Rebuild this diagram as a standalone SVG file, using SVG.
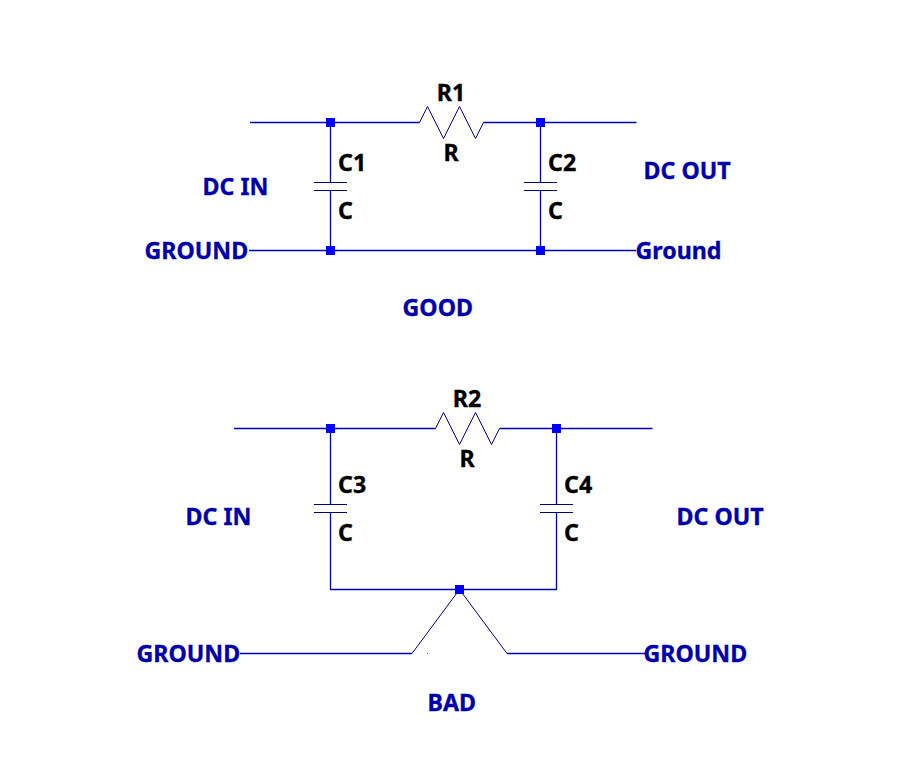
<svg xmlns="http://www.w3.org/2000/svg" width="912" height="780" viewBox="0 0 912 780">
<style>
text{font-family:"Noto Sans","DejaVu Sans",sans-serif;font-weight:700;font-size:23.2px;stroke-width:.35px}
.n{fill:#0000aa;stroke:#0000aa}
.k{fill:#000;stroke:#000}
.w{fill:none;stroke:#0000b4;stroke-width:1.3}
.t{fill:none;stroke:#000078;stroke-width:1}
.j{fill:#0000ff}
</style>
<rect width="912" height="780" fill="#fff"/>
<g id="connectors">
<path class="w" d="M250 122.5H419.5M483.5 122.5H636.5M330.5 122.5V182.5M330.5 190.5V250.5M540.5 122.5V182.5M540.5 190.5V250.5M249 250.5H636"/>
<path class="w" d="M234 428.5H435.5M499.5 428.5H652.5M330.5 428.5V504.5M330.5 512.5V589.5H556.5V512.5M556.5 504.5V428.5M240 653.5H412M507 653.5H645"/>
<path class="t" d="M412 653.5L459.5 589.5L507 653.5"/>
<rect x="427" y="653" width="1" height="1" fill="#555"/>
</g>
<g id="R1"><path class="t" d="M419.5 122.5L427.5 106.5L443.5 138.5L459.5 106.5L475.5 138.5L483.5 122.5"/><text class="k" x="451" y="101" text-anchor="middle">R1</text><text class="k" x="451" y="161" text-anchor="middle">R</text></g>
<g id="R2"><path class="t" d="M435.5 428.5L443.5 412.5L459.5 444.5L475.5 412.5L491.5 444.5L499.5 428.5"/><text class="k" x="467" y="406.5" text-anchor="middle">R2</text><text class="k" x="467" y="467" text-anchor="middle">R</text></g>
<g id="C1"><path class="t" d="M314 182.5H347M314 190.5H347"/><text class="k" x="338" y="171">C1</text><text class="k" x="338" y="219">C</text></g>
<g id="C2"><path class="t" d="M524 182.5H557M524 190.5H557"/><text class="k" x="548" y="171">C2</text><text class="k" x="548" y="219">C</text></g>
<g id="C3"><path class="t" d="M314 504.5H347M314 512.5H347"/><text class="k" x="338" y="493">C3</text><text class="k" x="338" y="541">C</text></g>
<g id="C4"><path class="t" d="M540 504.5H573M540 512.5H573"/><text class="k" x="564" y="493">C4</text><text class="k" x="564" y="541">C</text></g>
<g id="junctions">
<rect class="j" x="326" y="118" width="9" height="9"/><rect class="j" x="536" y="118" width="9" height="9"/>
<rect class="j" x="326" y="246" width="9" height="9"/><rect class="j" x="536" y="246" width="9" height="9"/>
<rect class="j" x="326" y="424" width="9" height="9"/><rect class="j" x="552" y="424" width="9" height="9"/>
<rect class="j" x="455" y="585" width="9" height="9"/>
</g>
<g id="labels">
<text class="n" x="202.5" y="195">DC IN</text>
<text class="n" x="144.5" y="259">GROUND</text>
<text class="n" x="643.5" y="179">DC OUT</text>
<text class="n" x="635.5" y="259">Ground</text>
<text class="n" x="402.5" y="315.5">GOOD</text>
<text class="n" x="185.5" y="525">DC IN</text>
<text class="n" x="676.5" y="525">DC OUT</text>
<text class="n" x="136.5" y="662">GROUND</text>
<text class="n" x="643.5" y="662">GROUND</text>
<text class="n" x="427.5" y="710.5">BAD</text>
</g>
</svg>
